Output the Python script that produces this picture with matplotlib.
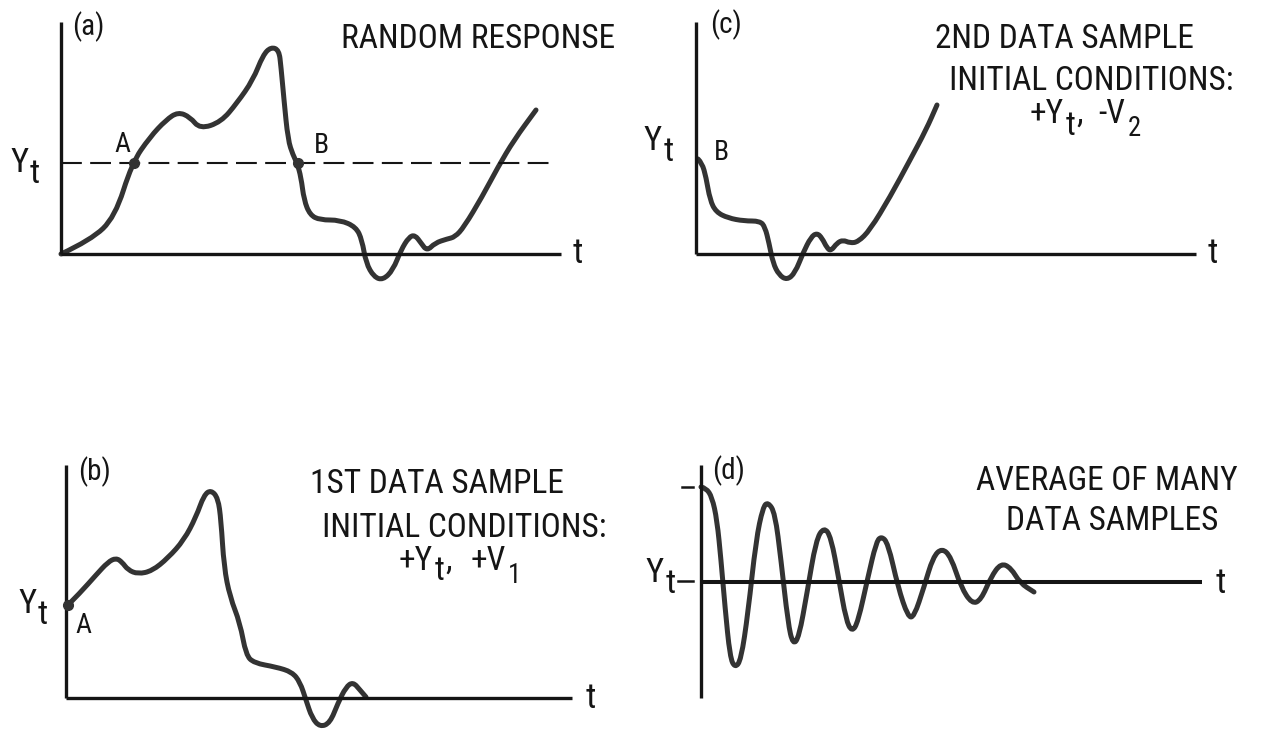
import numpy as np
import matplotlib
matplotlib.use("Agg")
import matplotlib.pyplot as plt
from matplotlib import font_manager
from matplotlib.path import Path
from matplotlib.patches import PathPatch

W, H = 1266, 731

# (a) random response; t and Y are measured from the axis origin
a_t = [0, 30, 54, 71, 89, 105, 117, 129, 139, 160, 176, 192, 202, 210, 218, 220,
       223, 227, 232, 236, 240, 243, 249, 259, 279, 295, 301, 305, 313, 322, 332,
       340, 348, 354, 360, 366, 374, 386, 394, 403, 421, 437, 453, 475]
a_y = [0, 14, 37, 91, 117, 134, 142, 137, 125, 132, 151, 174, 199, 207, 204, 187,
       154, 114, 99, 91, 77, 54, 39, 34, 34, 27, 14, -9, -23, -26, -16,
       4, 17, 19, 11, 3, 11, 15, 17, 27, 57, 87, 114, 144]
a_level = 91            # Y_t threshold
a_cross_t = [73, 237]   # up-crossing A, down-crossing B

# (b) first data sample, starts at A
b_t = [2, 14, 30, 42, 50, 56, 62, 72, 86, 102, 118, 130, 138, 145, 152, 155, 158,
       164, 174, 180, 188, 210, 226, 234, 240, 246, 254, 264, 272, 280, 287, 294, 300]
b_y = [93, 105, 123, 136, 140, 136, 128, 124, 127, 140, 158, 181, 203, 208, 200, 178, 131,
       101, 75, 43, 35, 31, 26, 16, -2, -20, -29, -25, -5, 11, 16, 8, 1]

# (c) second data sample, starts at B
c_t = [2, 6, 10, 14, 20, 32, 48, 64, 69, 73, 77, 83, 91, 99, 107, 115, 121, 126,
       131, 135, 141, 147, 154, 162, 174, 194, 214, 230, 241]
c_y = [95, 91, 77, 54, 42, 36, 33, 33, 27, 11, -9, -21, -26, -19, 1, 17, 21, 16,
       6, 3, 11, 14, 11, 12, 24, 57, 94, 124, 149]

# (d) average of many samples, Y measured from Y_t
d_t = [0, 5, 11, 16, 20, 24, 29, 34, 40, 47, 55, 62, 67, 74, 80, 87, 92, 98, 106, 115,
       123, 130, 138, 145, 151, 157, 167, 175, 180, 187, 197, 207, 213, 223, 232, 241,
       250, 260, 271, 280, 290, 300, 310, 319, 333]
d_y = [95, 94, 85, 62, 22, -25, -75, -86, -78, -31, 42, 75, 80, 69, 22, -41, -63, -55, -11, 42,
       55, 45, 2, -38, -50, -40, 5, 39, 46, 39, -5, -35, -35, -5, 25, 34,
       25, -5, -22, -18, 5, 19, 14, -1, -10]

INK = "#151515"
CURVE = "#333333"


def pick_font(names):
    for name in names:
        try:
            font_manager.findfont(name, fallback_to_default=False)
            return name
        except ValueError:
            pass
    return "DejaVu Sans"


FONT = pick_font(["Roboto Condensed", "PT Sans Narrow", "Archivo Narrow", "Liberation Sans"])
TITLE_SIZE = 24
TAG_SIZE = 21

fig = plt.figure(figsize=(W / 100, H / 100), dpi=100)
fig.patch.set_facecolor("white")


def make_panel(qx, qy, ox, oy):
    # one unit = one pixel, origin at the corner of the drawn axes
    ax = fig.add_axes([qx / W, 1 - (qy + H / 2) / H, 0.5, 0.5])
    ax.set_xlim(qx - ox, qx + W / 2 - ox)
    ax.set_ylim(oy - qy - H / 2, oy - qy)
    ax.axis("off")
    return ax


def smooth_path(t, y):
    pts = np.column_stack([t, y]).astype(float)
    verts = [pts[0]]
    codes = [Path.MOVETO]
    for i in range(1, len(pts) - 1):
        verts += [pts[i], (pts[i] + pts[i + 1]) / 2]
        codes += [Path.CURVE3, Path.CURVE3]
    verts.append(pts[-1])
    codes.append(Path.LINETO)
    return Path(verts, codes)


def draw_trace(ax, t, y):
    ax.add_patch(PathPatch(smooth_path(t, y), fill=False, lw=3.6, ec=CURVE,
                           capstyle="round", joinstyle="round"))


def draw_axes(ax, x_len, y_top, y_bottom=0, lw_x=2.4):
    ax.plot([0, 0], [y_bottom, y_top], color=INK, lw=2.4, solid_capstyle="butt")
    ax.plot([0, x_len], [0, 0], color=INK, lw=lw_x, solid_capstyle="butt")


def label(ax, x, y, s, size, ha="left"):
    ax.text(x, y, s, fontsize=size, family=FONT, color=INK, ha=ha, va="baseline")


def put_pieces(ax, x, y, pieces, size, align="center"):
    # lay out a run of (text, baseline shift, gap after, size factor) pieces
    renderer = fig.canvas.get_renderer()
    arts, widths = [], []
    for s, dy, gap, k in pieces:
        txt = ax.text(0, y + dy, s, fontsize=size * k, family=FONT, color=INK,
                      ha="left", va="baseline")
        arts.append(txt)
        widths.append(txt.get_window_extent(renderer).width + gap)
    left = x - sum(widths) / 2 if align == "center" else x
    for txt, w in zip(arts, widths):
        txt.set_x(left)
        left += w


def y_t_label(ax, x, y):
    put_pieces(ax, x, y, [("Y", 0, 2, 1), ("t", -11, 0, 1)], 24.8, align="left")


# (a)
ax = make_panel(0, 0, 61, 254)
draw_axes(ax, 500, 232)
ax.plot([0, 488], [a_level, a_level], color=INK, lw=1.5, ls=(0, (10, 4)))
draw_trace(ax, a_t, a_y)
ax.plot(a_cross_t, [a_level] * 2, "o", ms=7, color=CURVE)
label(ax, 11, 219, "(a)", TAG_SIZE)
label(ax, 417, 206, "RANDOM RESPONSE", TITLE_SIZE, ha="center")
y_t_label(ax, -51, 82)
label(ax, 61, 102, "A", 20, ha="center")
label(ax, 260, 101, "B", 20, ha="center")
label(ax, 512, -9, "t", 25)

# (c)
ax = make_panel(W / 2, 0, 696, 254)
draw_axes(ax, 500, 232)
draw_trace(ax, c_t, c_y)
label(ax, 14, 221, "(c)", TAG_SIZE)
label(ax, 368, 206, "2ND DATA SAMPLE", TITLE_SIZE, ha="center")
label(ax, 395, 164, "INITIAL CONDITIONS:", TITLE_SIZE, ha="center")
put_pieces(ax, 389, 131, [("+Y", 0, 2, 1), ("t", -12, 1, 1), (",", 0, 16, 1),
                          ("-V", 0, 2, 1), ("2", -13, 0, 0.8)], TITLE_SIZE)
y_t_label(ax, -53, 104)
label(ax, 25, 94, "B", 20, ha="center")
label(ax, 512, -9, "t", 25)

# (b)
ax = make_panel(0, H / 2, 66, 698)
draw_axes(ax, 506, 233)
draw_trace(ax, b_t, b_y)
ax.plot([b_t[0]], [b_y[0]], "o", ms=7, color=CURVE)
label(ax, 12, 218, "(b)", TAG_SIZE)
label(ax, 371, 205, "1ST DATA SAMPLE", TITLE_SIZE, ha="center")
label(ax, 398, 161, "INITIAL CONDITIONS:", TITLE_SIZE, ha="center")
put_pieces(ax, 394, 128, [("+Y", 0, 2, 1), ("t", -10, 1, 1), (",", 0, 18, 1),
                          ("+V", 0, 2, 1), ("1", -13, 0, 0.8)], TITLE_SIZE)
y_t_label(ax, -48, 85)
label(ax, 17, 65, "A", 20, ha="center")
label(ax, 520, -10, "t", 25)

# (d)
ax = make_panel(W / 2, H / 2, 701, 582)
draw_axes(ax, 501, 117, y_bottom=-116, lw_x=2.9)
draw_trace(ax, d_t, d_y)
ax.plot([-19, -8], [95, 95], color=INK, lw=1.8)
ax.plot([-23, -8], [1, 1], color=INK, lw=1.8)
label(ax, 11, 103, "(d)", TAG_SIZE)
label(ax, 406, 92, "AVERAGE OF MANY", TITLE_SIZE, ha="center")
label(ax, 411, 52, "DATA SAMPLES", TITLE_SIZE, ha="center")
y_t_label(ax, -56, 0)
label(ax, 515, -11, "t", 25)

fig.savefig("out.png", dpi=100, facecolor="white")
